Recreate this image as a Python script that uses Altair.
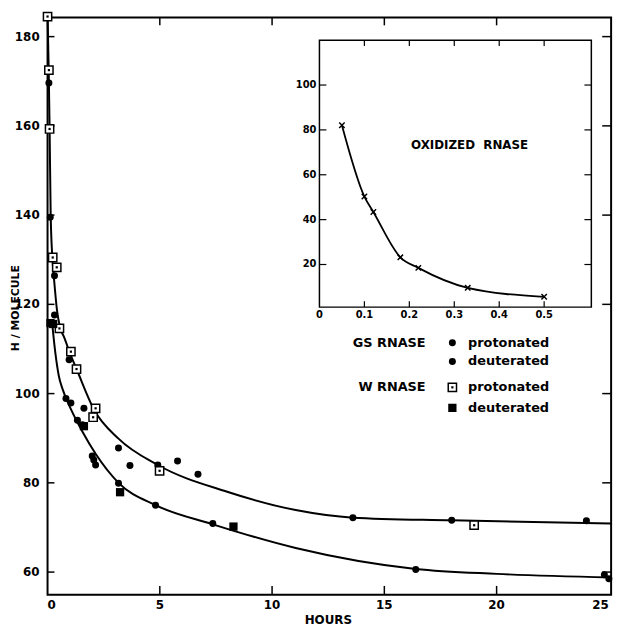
import altair as alt
import pandas as pd

# ---------------- data ----------------
# GS RNase, protonated (filled circles, upper curve)
gs_prot_hours = [0.06, 0.12, 0.31, 0.31, 0.96, 1.62, 3.16, 3.67, 4.91, 5.79, 6.70, 13.6, 18.0, 24.0]
gs_prot_h = [169.6, 139.5, 126.4, 117.6, 107.6, 96.7, 87.8, 83.9, 84.0, 84.9, 81.9, 72.2, 71.6, 71.5]
# GS RNase, deuterated (filled circles, lower curve)
gs_deut_hours = [0.82, 1.04, 1.33, 1.55, 1.99, 2.06, 2.14, 3.16, 4.81, 7.36, 16.4, 24.8, 25.0]
gs_deut_h = [98.9, 97.9, 94.0, 93.0, 86.0, 85.1, 84.0, 79.9, 75.0, 70.9, 60.6, 59.4, 58.5]
# W RNase, protonated (open squares with centre dot)
w_prot_hours = [0.0, 0.06, 0.09, 0.23, 0.41, 0.53, 1.04, 1.29, 2.03, 2.14, 4.99, 19.0]
w_prot_h = [184.5, 172.5, 159.3, 130.5, 128.3, 114.6, 109.4, 105.5, 94.7, 96.7, 82.7, 70.5]
# W RNase, deuterated (filled squares)
w_deut_hours = [0.13, 0.25, 1.62, 3.23, 8.28]
w_deut_h = [115.8, 115.6, 92.7, 77.9, 70.2]

# fitted curves as drawn
upper_hours = [0.0, 0.05, 0.09, 0.14, 0.22, 0.30, 0.42, 0.55, 0.75, 1.0, 1.3, 2.06, 3.16, 4.91, 8.0, 11.05, 13.6, 18.0, 25.1]
upper_h = [185, 173, 160, 140, 130, 125, 118.7, 115, 112.5, 109, 105.4, 96.5, 89.9, 84.0, 78.0, 73.9, 72.2, 71.6, 70.9]
lower_hours = [0.2, 0.35, 0.5, 0.67, 1.04, 1.55, 2.14, 3.16, 4.81, 7.36, 11.05, 16.4, 20.0, 25.1]
lower_h = [116, 109, 104, 101, 96.5, 91.5, 86.5, 80, 75.0, 70.7, 65.4, 60.7, 59.6, 58.8]

# inset: oxidized RNase
ox_hours = [0.05, 0.10, 0.12, 0.18, 0.22, 0.33, 0.50]
ox_h = [82.1, 50.3, 43.4, 23.2, 18.5, 9.6, 5.6]

# axis ticks
x_ticks = [0, 5, 10, 15, 20, 25]
y_ticks = [60, 80, 100, 120, 140, 160, 180]
inset_x_ticks = [0, 0.1, 0.2, 0.3, 0.4, 0.5]
inset_y_ticks = [20, 40, 60, 80, 100]

# texts
x_title = "HOURS"
y_title = "H / MOLECULE"
inset_title = "OXIDIZED\u00a0\u00a0RNASE"
legend_groups = ["GS RNASE", "", "W RNASE", ""]
legend_labels = ["protonated", "deuterated", "protonated", "deuterated"]

# ---------------- layout ----------------
W, H = 570, 584
FONT = "DejaVu Sans"
X_DOMAIN = [0, 25.1]
Y_DOMAIN = [54.9, 184.3]
IN_X_DOMAIN = [0, 0.605]
IN_Y_DOMAIN = [1, 120]
IN_LEFT, IN_RIGHT, IN_TOP, IN_BOTTOM = 275, 550, 23, 293
LEG_Y = [111.4, 107.2, 101.4, 96.8]
LEG_SYM_X, LEG_TEXT_X, LEG_GROUP_X = 18.03, 18.73, 16.84
OX_TEXT = (0.334, 73.3)

xsc = alt.Scale(domain=X_DOMAIN, nice=False, zero=False)
ysc = alt.Scale(domain=Y_DOMAIN, nice=False, zero=False)
ix = alt.Scale(domain=IN_X_DOMAIN, range=[IN_LEFT, IN_RIGHT], nice=False, zero=False)
iy = alt.Scale(domain=IN_Y_DOMAIN, range=[IN_BOTTOM, IN_TOP], nice=False, zero=False)


def X(field):
    return alt.X(field, type="quantitative", scale=xsc, axis=None)


def Y(field):
    return alt.Y(field, type="quantitative", scale=ysc, axis=None)


def IX(field):
    return alt.X(field, type="quantitative", scale=ix, axis=None)


def IY(field):
    return alt.Y(field, type="quantitative", scale=iy, axis=None)


txt = dict(font=FONT, fontWeight="bold", color="black")

# ---------------- main panel ----------------
curves = pd.DataFrame({
    "hours": upper_hours + lower_hours,
    "h": upper_h + lower_h,
    "curve": ["upper"] * len(upper_hours) + ["lower"] * len(lower_hours),
})
curve_layer = alt.Chart(curves).mark_line(color="black", strokeWidth=2, interpolate="monotone").encode(
    x=X("hours"), y=Y("h"), detail="curve:N")

gs_df = pd.DataFrame({"hours": gs_prot_hours + gs_deut_hours + [LEG_SYM_X, LEG_SYM_X],
                      "h": gs_prot_h + gs_deut_h + [LEG_Y[0], LEG_Y[1]]})
gs_layer = alt.Chart(gs_df).mark_circle(size=50, color="black", opacity=1).encode(x=X("hours"), y=Y("h"))

wp_df = pd.DataFrame({"hours": w_prot_hours + [LEG_SYM_X], "h": w_prot_h + [LEG_Y[2]]})
wp_layer = alt.Chart(wp_df).mark_square(size=70, fill="white", stroke="black", strokeWidth=1.5, opacity=1).encode(
    x=X("hours"), y=Y("h"))
wp_dot = alt.Chart(wp_df).mark_square(size=5, color="black", opacity=1).encode(x=X("hours"), y=Y("h"))

wd_df = pd.DataFrame({"hours": w_deut_hours + [LEG_SYM_X], "h": w_deut_h + [LEG_Y[3]]})
wd_layer = alt.Chart(wd_df).mark_square(size=70, color="black", opacity=1).encode(x=X("hours"), y=Y("h"))

# inward ticks of the main frame
xt = pd.DataFrame({"v": x_ticks[1:-1]})
yt = pd.DataFrame({"v": y_ticks})
tick_style = dict(color="black", strokeWidth=1.5)
xt_bottom = alt.Chart(xt).mark_rule(**tick_style).encode(x=X("v"), y=alt.value(H), y2=alt.value(H - 9))
xt_top = alt.Chart(xt).mark_rule(**tick_style).encode(x=X("v"), y=alt.value(0), y2=alt.value(8))
yt_left = alt.Chart(yt).mark_rule(**tick_style).encode(y=Y("v"), x=alt.value(0), x2=alt.value(7))
yt_right = alt.Chart(yt).mark_rule(**tick_style).encode(y=Y("v"), x=alt.value(W), x2=alt.value(W - 9))

# tick labels (from the tick arrays, placed through the scales)
xl = pd.DataFrame({"v": x_ticks})
xl_first = alt.Chart(xl.iloc[:1]).mark_text(align="left", baseline="top", fontSize=12, **txt).encode(
    x=X("v"), y=alt.value(H + 5), text=alt.Text("v:Q", format="d"))
xl_mid = alt.Chart(xl.iloc[1:-1]).mark_text(align="center", baseline="top", fontSize=12, **txt).encode(
    x=X("v"), y=alt.value(H + 5), text=alt.Text("v:Q", format="d"))
xl_last = alt.Chart(xl.iloc[-1:]).mark_text(align="right", baseline="top", fontSize=12, **txt).encode(
    x=X("v"), y=alt.value(H + 5), text=alt.Text("v:Q", format="d"))
yl = alt.Chart(yt).mark_text(align="right", baseline="middle", fontSize=12, **txt).encode(
    y=Y("v"), x=alt.value(-8), text=alt.Text("v:Q", format="d"))

x_title_layer = alt.Chart(pd.DataFrame({"s": [x_title]})).mark_text(
    align="center", baseline="alphabetic", fontSize=12, **txt).encode(
    x=alt.value(284), y=alt.value(H + 29), text="s:N")
y_title_layer = alt.Chart(pd.DataFrame({"s": [y_title]})).mark_text(
    align="center", baseline="middle", angle=270, fontSize=11, **txt).encode(
    x=alt.value(-32), y=alt.value(294), text="s:N")

# legend text
leg_df = pd.DataFrame({"group": legend_groups, "label": legend_labels, "h": LEG_Y,
                       "gx": [LEG_GROUP_X] * 4, "tx": [LEG_TEXT_X] * 4})
leg_labels = alt.Chart(leg_df).mark_text(align="left", baseline="middle", fontSize=13, **txt).encode(
    x=X("tx"), y=Y("h"), text="label:N")
leg_groups = alt.Chart(leg_df).mark_text(align="right", baseline="middle", fontSize=13, **txt).encode(
    x=X("gx"), y=Y("h"), text="group:N")

main = alt.layer(curve_layer, xt_bottom, xt_top, yt_left, yt_right,
                 xl_first, xl_mid, xl_last, yl, x_title_layer, y_title_layer,
                 gs_layer, wp_layer, wp_dot, wd_layer, leg_labels, leg_groups)

# ---------------- inset ----------------
ox_df = pd.DataFrame({"t": ox_hours, "v": ox_h})
frame_df = pd.DataFrame({"x0": [IN_X_DOMAIN[0]], "x1": [IN_X_DOMAIN[1]],
                         "y0": [IN_Y_DOMAIN[0]], "y1": [IN_Y_DOMAIN[1]]})
in_frame = alt.Chart(frame_df).mark_rect(fillOpacity=0, stroke="black", strokeWidth=1.5).encode(
    x=IX("x0"), x2="x1", y=IY("y0"), y2="y1")
in_curve = alt.Chart(ox_df).mark_line(color="black", strokeWidth=1.8, interpolate="monotone").encode(
    x=IX("t"), y=IY("v"))
in_points = alt.Chart(ox_df).mark_point(shape="M -1 -1 L 1 1 M -1 1 L 1 -1", size=30, filled=False,
                                         color="black", strokeWidth=1.5, opacity=1).encode(x=IX("t"), y=IY("v"))
ixt = pd.DataFrame({"v": inset_x_ticks})
iyt = pd.DataFrame({"v": inset_y_ticks})
ir = dict(color="black", strokeWidth=1.2)
ixt_b = alt.Chart(ixt.iloc[1:]).mark_rule(**ir).encode(
    x=IX("v"), y=alt.value(IN_BOTTOM), y2=alt.value(IN_BOTTOM - 6))
ixt_t = alt.Chart(ixt.iloc[1:]).mark_rule(**ir).encode(
    x=IX("v"), y=alt.value(IN_TOP), y2=alt.value(IN_TOP + 6))
iyt_l = alt.Chart(iyt).mark_rule(**ir).encode(
    y=IY("v"), x=alt.value(IN_LEFT), x2=alt.value(IN_LEFT + 7))
iyt_r = alt.Chart(iyt).mark_rule(**ir).encode(
    y=IY("v"), x=alt.value(IN_RIGHT), x2=alt.value(IN_RIGHT - 7))
ixl = alt.Chart(ixt).mark_text(align="center", baseline="top", fontSize=10, **txt).encode(
    x=IX("v"), y=alt.value(IN_BOTTOM + 3), text=alt.Text("v:Q", format=".1~f"))
iyl = alt.Chart(iyt).mark_text(align="right", baseline="middle", fontSize=10, **txt).encode(
    y=IY("v"), x=alt.value(IN_LEFT - 3), text=alt.Text("v:Q", format="d"))
ox_label = pd.DataFrame({"t": [OX_TEXT[0]], "v": [OX_TEXT[1]], "s": [inset_title]})
in_text = alt.Chart(ox_label).mark_text(align="center", baseline="middle", fontSize=12, **txt).encode(
    x=IX("t"), y=IY("v"), text="s:N")

inset = alt.layer(in_frame, in_curve, in_points, ixt_b, ixt_t, iyt_l, iyt_r, ixl, iyl, in_text)

chart = alt.layer(main, inset).resolve_scale(x="independent", y="independent").properties(
    width=W, height=H,
    background="white",
    autosize=alt.AutoSizeParams(type="none"),
    padding={"left": 40, "top": 6, "right": 10, "bottom": 30},
).configure_view(stroke="black", strokeWidth=2)

chart.save("out.html", embed_options={"renderer": "svg", "actions": False})
